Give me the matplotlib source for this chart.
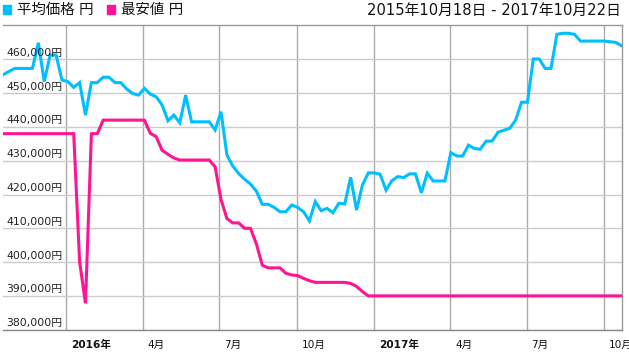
import matplotlib
matplotlib.use("Agg")
import matplotlib.pyplot as plt
import matplotlib.dates as mdates
from matplotlib.patches import Rectangle
import pandas as pd

plt.rcParams['font.family'] = ['DejaVu Sans', 'Noto Sans CJK JP']

# Weekly observation dates (Sundays)
dates = pd.date_range("2015-10-18", "2017-10-22", freq="7D")

avg_price = [
    455400, 456400, 457300, 457300, 457300, 457300, 464900, 453400, 461300, 461300,
    453900, 453400, 451700, 453100, 443500, 453100, 453100, 454700, 454700, 453100,
    453100, 451200, 449900, 449400, 451400, 449700, 448900, 446500, 441800, 443500,
    441200, 449400, 441500, 441500, 441500, 441500, 439100, 444500, 431700, 428400,
    426200, 424500, 423100, 421000, 417100, 417100, 416200, 414900, 414900, 416900,
    416200, 414900, 412200, 417900, 415200, 415900, 414600, 417400, 417200, 425100,
    415400, 422800, 426400, 426400, 426000, 421300, 424100, 425300, 425000, 426100,
    426100, 420500, 426300, 424000, 424000, 424000, 432400, 431400, 431400, 434600,
    433600, 433400, 435800, 435800, 438400, 439000, 439600, 442000, 447300, 447300,
    460100, 460100, 457300, 457300, 467400, 467700, 467700, 467400, 465400, 465400,
    465400, 465400, 465400, 465200, 465000, 464000,
]

min_price = [
    438000, 438000, 438000, 438000, 438000, 438000, 438000, 438000, 438000, 438000,
    438000, 438000, 438000, 400100, 387800, 438000, 438000, 442000, 442000, 442000,
    442000, 442000, 442000, 442000, 442000, 438100, 437100, 433100, 431900, 430800,
    430200, 430200, 430200, 430200, 430200, 430200, 428200, 418500, 412900, 411600,
    411600, 410000, 410000, 405400, 399100, 398300, 398300, 398300, 396700, 396200,
    396000, 395200, 394500, 394000, 394000, 394000, 394000, 394000, 394000, 393700,
    392800, 391300, 390000, 390000, 390000, 390000, 390000, 390000, 390000, 390000,
    390000, 390000, 390000, 390000, 390000, 390000, 390000, 390000, 390000, 390000,
    390000, 390000, 390000, 390000, 390000, 390000, 390000, 390000, 390000, 390000,
    390000, 390000, 390000, 390000, 390000, 390000, 390000, 390000, 390000, 390000,
    390000, 390000, 390000, 390000, 390000, 390000,
]

y_ticks = [380000, 390000, 400000, 410000, 420000, 430000, 440000, 450000, 460000]
x_tick_dates = ["2016-01-01", "2016-04-01", "2016-07-01", "2016-10-01",
                "2017-01-01", "2017-04-01", "2017-07-01", "2017-10-01"]
x_tick_labels = ["2016年", "4月", "7月", "10月", "2017年", "4月", "7月", "10月"]
x_tick_bold = [True, False, False, False, True, False, False, False]

series_names = ["平均価格 円", "最安値 円"]
title_text = "2015年10月18日 - 2017年10月22日"

BLUE = "#00BFFF"
PINK = "#FF1493"

W, H = 629, 358
fig = plt.figure(figsize=(W / 100, H / 100), dpi=100)
ax = fig.add_axes([3 / W, (H - 329.7) / H, 618.7 / W, 304.7 / H])

ax.plot(dates, avg_price, color=BLUE, lw=2.2, solid_joinstyle="miter", zorder=3)
ax.plot(dates, min_price, color=PINK, lw=2.2, solid_joinstyle="miter", zorder=3)

ax.set_xlim(dates[0], dates[-1])
ax.set_ylim(380000, 470150)

# grid
ax.set_yticks(y_ticks)
ax.set_xticks(pd.to_datetime(x_tick_dates))
ax.grid(axis="y", color="#cccccc", lw=1)
ax.grid(axis="x", color="#aaaaaa", lw=1)
ax.tick_params(length=0, labelleft=False, labelbottom=False)

ax.spines["left"].set_visible(False)
ax.spines["top"].set_color("#999999")
ax.spines["right"].set_color("#999999")
ax.spines["bottom"].set_color("#888888")
for s in ["top", "right", "bottom"]:
    ax.spines[s].set_linewidth(1)

# y labels inside plot
for v in y_ticks:
    ax.annotate(f"{v:,}円", xy=(0, v), xycoords=("axes fraction", "data"),
                xytext=(3.5, 1.5), textcoords="offset pixels",
                ha="left", va="bottom", fontsize=7.8, color="#222222", zorder=4)

# x labels
for d, lab, b in zip(x_tick_dates, x_tick_labels, x_tick_bold):
    ax.annotate(lab, xy=(pd.Timestamp(d), 0), xycoords=("data", "axes fraction"),
                xytext=(5, -15), textcoords="offset pixels",
                ha="left", va="center", fontsize=7.6,
                fontweight="bold" if b else "normal", color="#111111",
                annotation_clip=False)

# legend
fig.patches.append(Rectangle((3 / W, 1 - 14 / H), 8 / W, 9 / H, transform=fig.transFigure,
                             color=BLUE, figure=fig))
fig.text(17 / W, 1 - 10 / H, series_names[0], ha="left", va="center", fontsize=10.4,
         color="#111111")
fig.patches.append(Rectangle((107 / W, 1 - 14 / H), 8 / W, 9 / H, transform=fig.transFigure,
                             color=PINK, figure=fig))
fig.text(121 / W, 1 - 10 / H, series_names[1], ha="left", va="center", fontsize=10.4,
         color="#111111")

fig.text(621 / W, 1 - 10 / H, title_text, ha="right", va="center", fontsize=10.6,
         color="#111111")

fig.savefig("out.png", dpi=100)
